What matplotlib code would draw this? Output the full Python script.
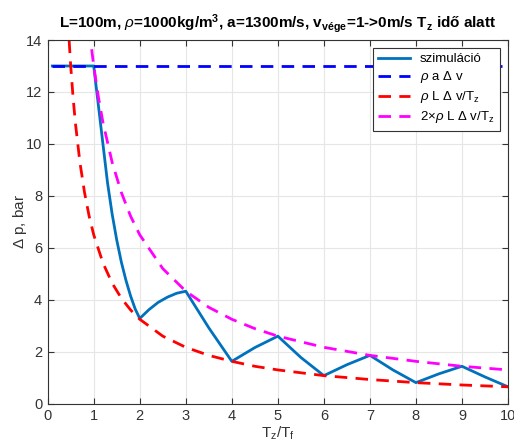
import matplotlib
matplotlib.use("Agg")
import matplotlib.pyplot as plt

plt.rcParams['font.family'] = ['Liberation Sans', 'DejaVu Sans']
plt.rcParams['mathtext.fontset'] = 'custom'
plt.rcParams['mathtext.rm'] = 'Liberation Sans'
plt.rcParams['mathtext.it'] = 'Liberation Sans:italic'
plt.rcParams['mathtext.bf'] = 'Liberation Sans:bold'

# simulation result (bar vs Tz/Tf)
sim_x = [0.1, 1, 1.05, 1.1, 1.2, 1.3, 1.4, 1.5, 1.6, 1.7, 1.8, 1.9, 2,
         2.2, 2.4, 2.6, 2.8, 3, 3.5, 4, 4.5, 5, 5.5, 6, 6.5, 7, 7.5, 8,
         8.5, 9, 9.5, 10]
sim_y = [13, 13, 12.25, 11.5, 10.0, 8.5, 7.3, 6.3, 5.45, 4.75, 4.15, 3.65, 3.28,
         3.62, 3.9, 4.1, 4.25, 4.33, 2.92, 1.63, 2.16, 2.6, 1.78, 1.08, 1.5, 1.86, 1.3, 0.81,
         1.15, 1.44, 1.03, 0.65]

# rho a dv
joukowsky_x = [0.1, 10]
joukowsky_y = [13, 13]

# rho L dv / Tz
red_x = [0.4, 0.45, 0.5, 0.55, 0.6, 0.7, 0.8, 0.9, 1, 1.2, 1.4, 1.6, 1.8, 2,
         2.5, 3, 3.5, 4, 4.5, 5, 6, 7, 8, 9, 10]
red_y = [16.25, 14.44, 13.0, 11.82, 10.83, 9.29, 8.13, 7.22, 6.5, 5.42, 4.64,
         4.06, 3.61, 3.25, 2.6, 2.17, 1.86, 1.63, 1.44, 1.3, 1.08, 0.93, 0.81,
         0.72, 0.65]

# 2 x rho L dv / Tz
mag_x = [0.9, 1, 1.1, 1.2, 1.4, 1.6, 1.8, 2, 2.5, 3, 3.5, 4, 4.5, 5, 6, 7, 8, 9, 10]
mag_y = [14.44, 13.0, 11.82, 10.83, 9.29, 8.13, 7.22, 6.5, 5.2, 4.33, 3.71,
         3.25, 2.89, 2.6, 2.17, 1.86, 1.63, 1.44, 1.3]

fig = plt.figure(figsize=(5.14, 4.47), dpi=100)
ax = fig.add_axes([0.0928, 0.0969, 0.8955, 0.8136])

dash = (4.5, 3)
ax.plot(sim_x, sim_y, color=(0, 0.447, 0.741), lw=2, label='szimuláció')
ax.plot(joukowsky_x, joukowsky_y, '--', color='#0000ff', lw=2, dashes=dash,
        label=r'$\rho$ a $\Delta$ v')
ax.plot(red_x, red_y, '--', color='#ff0000', lw=2, dashes=dash,
        label=r'$\rho$ L $\Delta$ v/T$_{\mathrm{z}}$')
ax.plot(mag_x, mag_y, '--', color='#ff00ff', lw=2, dashes=dash,
        label=r'2$\times\rho$ L $\Delta$ v/T$_{\mathrm{z}}$')

ax.set_xlim(0, 10)
ax.set_ylim(0, 14)
ax.set_xticks(range(0, 11))
ax.set_yticks(range(0, 15, 2))
ax.grid(True, color='#e6e6e6', lw=0.8)
ax.set_axisbelow(True)
ax.tick_params(direction='in', labelsize=10.5, colors='#333333', length=4, top=True, right=True,
               labeltop=False, labelright=False, pad=4)
for s in ax.spines.values():
    s.set_color('#333333')
    s.set_linewidth(0.8)

ax.set_xlabel(r'T$_{\mathrm{z}}$/T$_{\mathrm{f}}$', fontsize=11, color='#333333', labelpad=1)
ax.set_ylabel(r'$\Delta$ p, bar', fontsize=11, color='#333333', labelpad=-2)
ax.set_title(r'L=100m, $\rho$=1000kg/m$^{\mathbf{3}}$, a=1300m/s, v$_{\mathbf{vége}}$=1->0m/s T$_{\mathbf{z}}$ idő alatt',
             fontsize=11, fontweight='bold', pad=9)

leg = ax.legend(loc='upper right', fontsize=9.5, fancybox=False, framealpha=1,
                edgecolor='#333333', handlelength=2.4, borderaxespad=0.6,
                labelspacing=0.3, borderpad=0.4)
leg.get_frame().set_linewidth(0.8)

fig.savefig('out.png', dpi=100)
